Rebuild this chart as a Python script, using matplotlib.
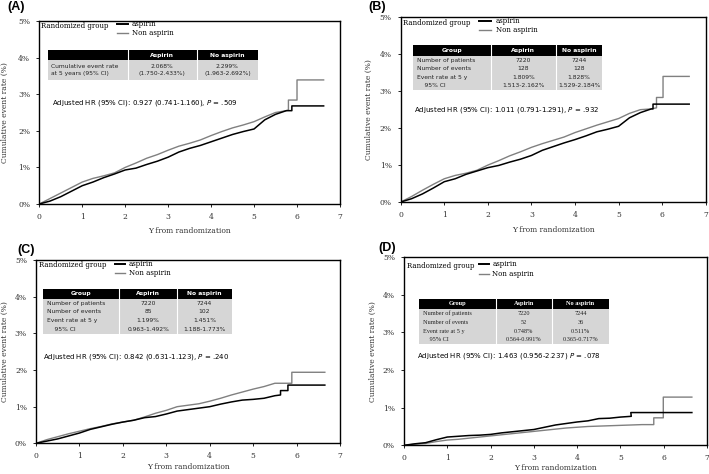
import matplotlib
matplotlib.use("Agg")
import matplotlib.pyplot as plt
from matplotlib.patches import Rectangle

# ---- data (years, cumulative event rate in %) ----
t_grid = [0, .25, .5, .75, 1, 1.25, 1.5, 1.75, 2, 2.25, 2.5, 2.75, 3, 3.25,
          3.5, 3.75, 4, 4.25, 4.5, 4.75, 5, 5.25, 5.5]

a_asp_t = t_grid + [5.75, 5.88, 5.88, 6.62]
a_asp_y = [0, .08, .2, .35, .5, .6, .72, .82, .93, .98, 1.08, 1.17, 1.28, 1.42,
           1.52, 1.6, 1.70, 1.8, 1.9, 1.98, 2.05, 2.3, 2.45, 2.55, 2.55, 2.68, 2.68]
a_non_t = t_grid + [5.75, 5.8, 5.8, 6.0, 6.0, 6.62]
a_non_y = [0, .15, .3, .45, .6, .7, .77, .85, 1.0, 1.12, 1.25, 1.35, 1.47, 1.58,
           1.66, 1.75, 1.87, 1.98, 2.08, 2.16, 2.25, 2.38, 2.5, 2.55, 2.57, 2.84,
           2.84, 3.39, 3.39]

b_asp_t = t_grid + [5.75, 5.79, 5.79, 6.62]
b_asp_y = [0, .09, .22, .38, .55, .63, .75, .84, .93, .99, 1.08, 1.16, 1.26, 1.4,
           1.5, 1.6, 1.69, 1.79, 1.9, 1.97, 2.05, 2.28, 2.42, 2.52, 2.52, 2.65, 2.65]
b_non_t = t_grid + [5.75, 5.87, 5.87, 6.02, 6.02, 6.62]
b_non_y = [0, .15, .32, .48, .63, .72, .78, .86, 1.0, 1.12, 1.25, 1.36, 1.48, 1.58,
           1.67, 1.76, 1.88, 1.98, 2.08, 2.17, 2.26, 2.4, 2.5, 2.52, 2.55, 2.83,
           2.83, 3.4, 3.4]

c_asp_t = t_grid + [5.63, 5.63, 5.8, 5.8, 6.65]
c_asp_y = [0, .06, .12, .2, .28, .38, .45, .52, .58, .63, .7, .73, .8, .88,
           .92, .96, 1.0, 1.07, 1.13, 1.18, 1.2, 1.23, 1.3, 1.32, 1.44, 1.44,
           1.59, 1.59]
c_non_t = t_grid + [5.89, 5.89, 6.65]
c_non_y = [0, .1, .18, .26, .33, .4, .46, .53, .58, .63, .72, .82, .9, 1.0,
           1.04, 1.08, 1.15, 1.23, 1.32, 1.4, 1.48, 1.55, 1.64, 1.64, 1.94, 1.94]

d_asp_t = t_grid[:-1] + [5.24, 6.65]
d_asp_y = [0, .04, .07, .15, .22, .24, .26, .27, .29, .33, .36, .39, .42, .48,
           .54, .58, .62, .65, .71, .72, .75, .77, .87, .87]
d_non_t = t_grid + [5.77, 5.77, 5.99, 5.99, 6.65]
d_non_y = [0, .03, .05, .1, .14, .16, .19, .22, .25, .28, .31, .34, .37, .40,
           .43, .46, .48, .50, .51, .52, .53, .54, .55, .55, .73, .73, 1.28, 1.28]

# ---- table contents ----
a_header = ["", "Aspirin", "No aspirin"]
a_rows = ["Cumulative event rate\nat 5 years (95% CI)",
          "2.068%\n(1.750-2.433%)", "2.299%\n(1.963-2.692%)"]
row_names = ["Number of patients", "Number of events", "Event rate at 5 y", "    95% CI"]
grp_header = ["Group", "Aspirin", "No aspirin"]
b_asp_col = ["7220", "128", "1.809%", "1.513-2.162%"]
b_non_col = ["7244", "128", "1.828%", "1.529-2.184%"]
c_asp_col = ["7220", "85", "1.199%", "0.963-1.492%"]
c_non_col = ["7244", "102", "1.451%", "1.188-1.773%"]
d_asp_col = ["7220", "52", "0.748%", "0.564-0.991%"]
d_non_col = ["7244", "36", "0.511%", "0.365-0.717%"]

hr_texts = ["Adjusted HR (95% CI): 0.927 (0.741-1.160), $P$ = .509",
            "Adjusted HR (95% CI): 1.011 (0.791-1.291), $P$ = .932",
            "Adjusted HR (95% CI): 0.842 (0.631-1.123), $P$ = .240",
            "Adjusted HR (95% CI): 1.463 (0.956-2.237) $P$ = .078"]

SERIF = "DejaVu Serif"
SANS = "DejaVu Sans"
GRAY = "#808080"
TXT = "#333333"

fig = plt.figure(figsize=(7.09, 4.74), dpi=100)


def setup_axes(rect, letter, letter_xy, ylab_x, xlab_y):
    ax = fig.add_axes(rect)
    ax.set_xlim(0, 7)
    ax.set_ylim(0, 5)
    ax.set_xticks(range(8))
    ax.set_yticks(range(6))
    ax.set_yticklabels(["%d%%" % i for i in range(6)])
    for lab in ax.get_xticklabels() + ax.get_yticklabels():
        lab.set_family(SERIF)
        lab.set_fontsize(5.5)
        lab.set_color(TXT)
    ax.tick_params(length=2.5, width=0.6, pad=4)
    for s in ax.spines.values():
        s.set_linewidth(1.0)
    ax.set_xlabel("Y from randomization", family=SERIF, fontsize=5.5, color=TXT)
    ax.xaxis.set_label_coords(0.5, xlab_y)
    ax.set_ylabel("Cumulative event rate (%)", family=SERIF, fontsize=5.5, color=TXT)
    ax.yaxis.set_label_coords(ylab_x, 0.5)
    fig.text(letter_xy[0], letter_xy[1], letter, fontsize=9, fontweight="bold",
             family="Liberation Sans", ha="left", va="center")
    return ax


def legend(ax, x_text, y_top, x0, x1, y_blk, y_gry, x_lab):
    ax.text(x_text, y_top, "Randomized group", family=SERIF, fontsize=5.0,
            va="center", ha="left")
    ax.plot([x0, x1], [y_blk, y_blk], color="black", lw=1.4)
    ax.plot([x0, x1], [y_gry, y_gry], color=GRAY, lw=1.0)
    ax.text(x_lab, y_blk, "aspirin", family=SERIF, fontsize=5.0, va="center")
    ax.text(x_lab, y_gry, "Non aspirin", family=SERIF, fontsize=5.0, va="center")


def cell_text(ax, xs, j, yy, txt, font, fs):
    if j == 0:
        ax.text(xs[0] + 0.08, yy, txt, fontsize=fs, family=font, ha="left",
                va="center", zorder=5, color="#222222", linespacing=1.3)
    else:
        ax.text((xs[j] + xs[j + 1]) / 2, yy, txt, fontsize=fs, family=font,
                ha="center", va="center", zorder=5, color="#222222",
                linespacing=1.3)


def table(ax, xs, ytop, ymid, ybot, header, cols, font, fs=4.3):
    ax.add_patch(Rectangle((xs[0], ymid), xs[-1] - xs[0], ytop - ymid,
                           facecolor="black", edgecolor="none", zorder=3))
    ax.add_patch(Rectangle((xs[0], ybot), xs[-1] - xs[0], ymid - ybot,
                           facecolor="#d6d6d6", edgecolor="none", zorder=3))
    for x in xs[1:-1]:
        ax.plot([x, x], [ybot, ytop], color="white", lw=0.8, zorder=4)
    for i, h in enumerate(header):
        ax.text((xs[i] + xs[i + 1]) / 2, (ytop + ymid) / 2, h, color="white",
                fontsize=fs, family=font, fontweight="bold",
                ha="center", va="center", zorder=5)
    for j, col in enumerate(cols):
        if isinstance(col, list):
            step = (ymid - ybot) / len(col)
            for k, txt in enumerate(col):
                cell_text(ax, xs, j, ymid - step * (k + 0.5), txt, font, fs)
        else:
            cell_text(ax, xs, j, (ymid + ybot) / 2, col, font, fs)


# ---- panel A ----
axA = setup_axes([0.0554, 0.5696, 0.4241, 0.3861], "(A)", (0.011, 0.985), -0.10, -0.125)
axA.plot(a_non_t, a_non_y, color=GRAY, lw=1.0)
axA.plot(a_asp_t, a_asp_y, color="black", lw=1.1)
legend(axA, 0.05, 4.85, 1.8, 2.07, 4.92, 4.68, 2.15)
table(axA, [0.2, 2.06, 3.67, 5.09], 4.21, 3.93, 3.39, a_header, a_rows, SANS)
axA.text(0.29, 2.75, hr_texts[0], fontsize=5.0, family=SANS, va="center")

# ---- panel B ----
axB = setup_axes([0.5652, 0.5738, 0.4302, 0.3897], "(B)", (0.52, 0.985), -0.09, -0.13)
axB.plot(b_non_t, b_non_y, color=GRAY, lw=1.0)
axB.plot(b_asp_t, b_asp_y, color="black", lw=1.1)
legend(axB, 0.06, 4.84, 1.8, 2.07, 4.89, 4.66, 2.18)
table(axB, [0.29, 2.07, 3.56, 4.63], 4.24, 3.96, 3.03, grp_header,
      [row_names, b_asp_col, b_non_col], SANS)
axB.text(0.31, 2.49, hr_texts[1], fontsize=5.0, family=SANS, va="center")

# ---- panel C ----
axC = setup_axes([0.0508, 0.0648, 0.4288, 0.3861], "(C)", (0.025, 0.473), -0.09, -0.11)
axC.plot(c_non_t, c_non_y, color=GRAY, lw=1.0)
axC.plot(c_asp_t, c_asp_y, color="black", lw=1.1)
legend(axC, 0.07, 4.86, 1.82, 2.05, 4.89, 4.65, 2.13)
table(axC, [0.17, 1.92, 3.24, 4.52], 4.22, 3.95, 2.99, grp_header,
      [row_names, c_asp_col, c_non_col], SANS)
axC.text(0.17, 2.36, hr_texts[2], fontsize=5.0, family=SANS, va="center")

# ---- panel D ----
axD = setup_axes([0.5698, 0.0605, 0.4274, 0.3973], "(D)", (0.534, 0.476), -0.09, -0.10)
axD.plot(d_non_t, d_non_y, color=GRAY, lw=1.0)
axD.plot(d_asp_t, d_asp_y, color="black", lw=1.1)
legend(axD, 0.06, 4.75, 1.73, 1.96, 4.82, 4.55, 2.04)
table(axD, [0.35, 2.12, 3.42, 4.73], 3.89, 3.62, 2.68, grp_header,
      [row_names, d_asp_col, d_non_col], "Liberation Serif", fs=4.5)
axD.text(0.31, 2.36, hr_texts[3], fontsize=5.0, family=SANS, va="center")

fig.savefig("out.png", dpi=100)
